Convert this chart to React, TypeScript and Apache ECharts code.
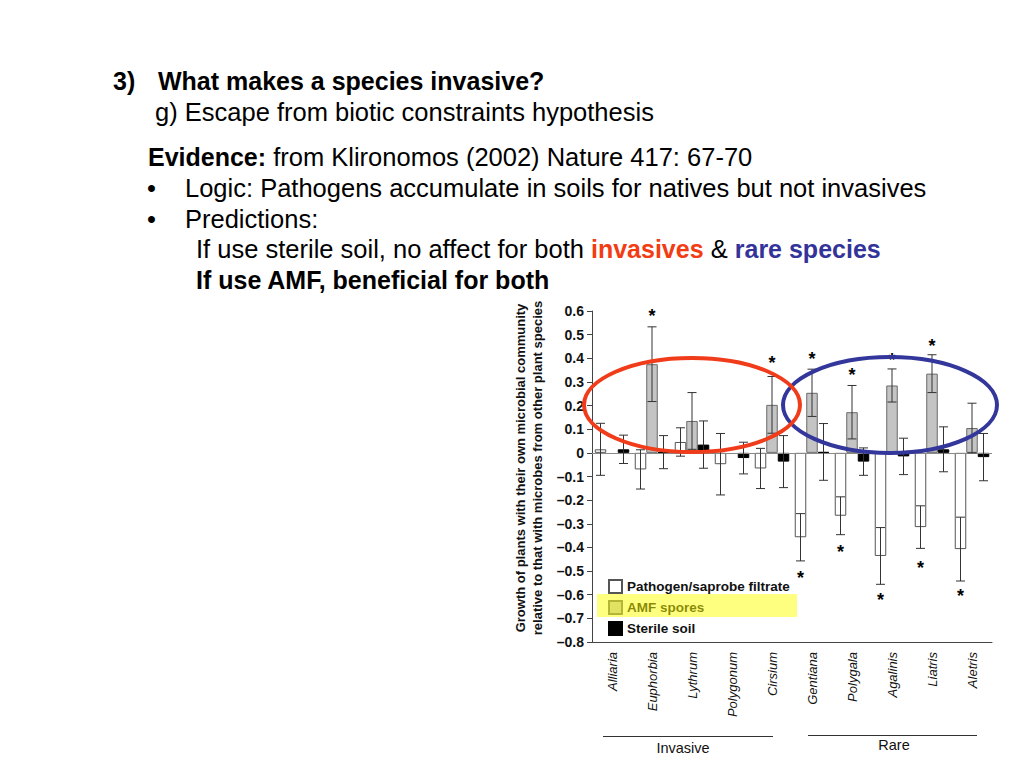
import React, { useEffect, useRef } from 'react';
import * as echarts from 'echarts';

const categories = ['Alliaria', 'Euphorbia', 'Lythrum', 'Polygonum', 'Cirsium', 'Gentiana', 'Polygala', 'Agalinis', 'Liatris', 'Aletris'];
const seriesNames = ['Pathogen/saprobe filtrate', 'AMF spores', 'Sterile soil'];
const pathogenValues = [0.015, -0.07, 0.046, -0.048, -0.066, -0.357, -0.266, -0.436, -0.314, -0.407];
const pathogenErrors = [0.11, 0.083, 0.06, 0.13, 0.085, 0.1, 0.08, 0.12, 0.09, 0.135];
const amfValues = [null, 0.375, 0.135, null, 0.203, 0.254, 0.172, 0.285, 0.335, 0.105];
const amfErrors = [null, 0.158, 0.12, null, 0.12, 0.1, 0.113, 0.07, 0.08, 0.105];
const sterileValues = [0.015, 0.003, 0.035, -0.022, -0.037, 0.004, -0.037, -0.015, 0.015, -0.018];
const sterileErrors = [0.06, 0.07, 0.1, 0.067, 0.11, 0.12, 0.058, 0.077, 0.095, 0.1];
// [category index, bar index (0 pathogen, 1 AMF), y value of asterisk]
const starMarks = [
  [1, 1, 0.6], [4, 1, 0.4], [5, 1, 0.42], [6, 1, 0.35], [7, 1, 0.415], [8, 1, 0.475],
  [5, 0, -0.51], [6, 0, -0.4], [7, 0, -0.6], [8, 0, -0.465], [9, 0, -0.585],
];
const groupLabels = ['Invasive', 'Rare'];
const yAxisTitle = ['Growth of plants with their own microbial community', 'relative to that with microbes from other plant species'];

const FONT = 'Liberation Sans, Arial, Helvetica, sans-serif';
const BAR_W = 11.5;
const offsets = [-BAR_W, 0, BAR_W];
const REG = 25.5;
const BOLD = 25;

function errorRender(offset: number) {
  return (params: any, api: any) => {
    const i = api.value(0);
    const v = api.value(1);
    const e = api.value(2);
    if (v == null || e == null || isNaN(v) || isNaN(e)) return null;
    const c = api.coord([i, v]);
    const hi = api.coord([i, v + e]);
    const lo = api.coord([i, v - e]);
    const x = c[0] + offset;
    const cap = 4.5;
    const st = { stroke: '#333', lineWidth: 1 };
    return {
      type: 'group',
      children: [
        { type: 'line', shape: { x1: x, y1: hi[1], x2: x, y2: lo[1] }, style: st },
        { type: 'line', shape: { x1: x - cap, y1: hi[1], x2: x + cap, y2: hi[1] }, style: st },
        { type: 'line', shape: { x1: x - cap, y1: lo[1], x2: x + cap, y2: lo[1] }, style: st },
      ],
    };
  };
}

function txt(x: number, y: number, text: string, extra: any = {}) {
  return {
    type: 'text',
    x,
    y,
    style: {
      text,
      fill: '#000',
      fontFamily: FONT,
      fontSize: REG,
      textVerticalAlign: 'middle',
      verticalAlign: 'middle',
      ...extra,
    },
  };
}

function buildOption(): any {
  const errSets = [
    [pathogenValues, pathogenErrors],
    [amfValues, amfErrors],
    [sterileValues, sterileErrors],
  ];
  const barStyles = [
    { color: '#ffffff', borderColor: '#555', borderWidth: 1 },
    { color: '#c4c4c4', borderColor: '#6a6a6a', borderWidth: 1 },
    { color: '#000000', borderColor: '#000', borderWidth: 1 },
  ];
  const barData = [pathogenValues, amfValues, sterileValues];

  const bars = barData.map((vals, k) => ({
    name: seriesNames[k],
    type: 'bar',
    barWidth: BAR_W,
    barGap: '0%',
    data: vals.map((v) => (v == null ? '-' : v)),
    itemStyle: barStyles[k],
    silent: true,
    ...(k === 0
      ? {
          markLine: {
            silent: true,
            symbol: 'none',
            label: { show: false },
            lineStyle: { color: '#8a8a8a', width: 1, type: 'solid' },
            data: [{ yAxis: 0 }],
          },
        }
      : {}),
  }));

  const errs = errSets.map(([vals, es], k) => ({
    type: 'custom',
    renderItem: errorRender(offsets[k]),
    data: (vals as any[]).map((v, i) => [i, v == null ? NaN : v, es[i] == null ? NaN : es[i]]),
    z: 5,
    silent: true,
  }));

  const stars = {
    type: 'custom',
    z: 6,
    silent: true,
    data: starMarks,
    renderItem: (params: any, api: any) => {
      const i = api.value(0);
      const b = api.value(1);
      const y = api.value(2);
      const c = api.coord([i, y]);
      return {
        type: 'text',
        x: c[0] + offsets[b],
        y: c[1] + 5,
        style: {
          text: '*',
          fill: '#000',
          fontFamily: FONT,
          fontSize: 18,
          fontWeight: 'bold',
          align: 'center',
          verticalAlign: 'middle',
          textAlign: 'center',
          textVerticalAlign: 'middle',
        },
      };
    },
  };

  const graphic: any[] = [
    txt(113, 81, '3)', { fontWeight: 'bold', fontSize: BOLD }),
    txt(158, 81, 'What makes a species invasive?', { fontWeight: 'bold', fontSize: BOLD }),
    txt(155, 112, 'g) Escape from biotic constraints hypothesis'),
    {
      type: 'text',
      x: 148,
      y: 157,
      style: {
        text: '{b|Evidence:}{n| from Klironomos (2002) Nature 417: 67-70}',
        fontFamily: FONT,
        fontSize: REG,
        verticalAlign: 'middle',
        textVerticalAlign: 'middle',
        rich: {
          b: { fontFamily: FONT, fontSize: BOLD, fontWeight: 'bold', fill: '#000', color: '#000' },
          n: { fontFamily: FONT, fontSize: REG, fill: '#000', color: '#000' },
        },
      },
    },
    txt(147, 188, '•'),
    txt(185, 188, 'Logic: Pathogens accumulate in soils for natives but not invasives'),
    txt(147, 219, '•'),
    txt(185, 219, 'Predictions:'),
    {
      type: 'text',
      x: 196,
      y: 249,
      style: {
        text: '{n|If use sterile soil, no affect for both }{r|invasives}{n| & }{bl|rare species}',
        fontFamily: FONT,
        fontSize: REG,
        verticalAlign: 'middle',
        textVerticalAlign: 'middle',
        rich: {
          n: { fontFamily: FONT, fontSize: REG, fill: '#000', color: '#000' },
          r: { fontFamily: FONT, fontSize: BOLD, fontWeight: 'bold', fill: '#f23c14', color: '#f23c14' },
          bl: { fontFamily: FONT, fontSize: BOLD, fontWeight: 'bold', fill: '#333399', color: '#333399' },
        },
      },
    },
    txt(196, 280, 'If use AMF, beneficial for both', { fontWeight: 'bold', fontSize: BOLD }),
    // y-axis title (two rotated lines)
    {
      type: 'text', x: 520, y: 468, rotation: Math.PI / 2,
      style: { text: yAxisTitle[0], fill: '#111', fontFamily: FONT, fontSize: 13, fontWeight: 'bold', align: 'center', verticalAlign: 'middle', textAlign: 'center', textVerticalAlign: 'middle' },
    },
    {
      type: 'text', x: 537, y: 468, rotation: Math.PI / 2,
      style: { text: yAxisTitle[1], fill: '#111', fontFamily: FONT, fontSize: 13, fontWeight: 'bold', align: 'center', verticalAlign: 'middle', textAlign: 'center', textVerticalAlign: 'middle' },
    },
    // group labels
    { type: 'line', shape: { x1: 603, y1: 736.5, x2: 773, y2: 736.5 }, style: { stroke: '#333', lineWidth: 1 } },
    { type: 'line', shape: { x1: 808, y1: 735.5, x2: 977, y2: 735.5 }, style: { stroke: '#333', lineWidth: 1 } },
    {
      type: 'text', x: 683, y: 748,
      style: { text: groupLabels[0], fill: '#111', fontFamily: FONT, fontSize: 14.5, align: 'center', verticalAlign: 'middle', textAlign: 'center', textVerticalAlign: 'middle' },
    },
    {
      type: 'text', x: 894, y: 745,
      style: { text: groupLabels[1], fill: '#111', fontFamily: FONT, fontSize: 14.5, align: 'center', verticalAlign: 'middle', textAlign: 'center', textVerticalAlign: 'middle' },
    },
    // highlight over legend item
    { type: 'rect', z: 100, shape: { x: 597, y: 594, width: 200, height: 23 }, style: { fill: 'rgba(255,255,0,0.5)' } },
    // ellipses
    { type: 'ellipse', z: 100, shape: { cx: 890, cy: 405, rx: 107, ry: 48 }, style: { fill: 'none', stroke: '#33369a', lineWidth: 4 } },
    { type: 'ellipse', z: 101, shape: { cx: 692, cy: 405, rx: 108, ry: 47 }, style: { fill: 'none', stroke: '#f03c1a', lineWidth: 4 } },
  ];

  return {
    animation: false,
    backgroundColor: '#fff',
    grid: { left: 592, right: 32, top: 311, bottom: 126, containLabel: false },
    legend: {
      data: seriesNames,
      orient: 'vertical',
      left: 603,
      top: 574,
      icon: 'rect',
      itemWidth: 13,
      itemHeight: 13,
      itemGap: 6,
      selectedMode: false,
      textStyle: { fontFamily: FONT, fontSize: 13.5, fontWeight: 'bold', color: '#111' },
    },
    xAxis: {
      type: 'category',
      data: categories,
      axisLine: { onZero: false, lineStyle: { color: '#444', width: 1 } },
      axisTick: { alignWithLabel: true, length: 5, lineStyle: { color: '#444' } },
      axisLabel: { interval: 0, rotate: 90, margin: 10, fontFamily: FONT, fontSize: 13, fontStyle: 'italic', color: '#111' },
      splitLine: { show: false },
    },
    yAxis: {
      type: 'value',
      min: -0.8,
      max: 0.6,
      interval: 0.1,
      axisLine: { show: true, lineStyle: { color: '#444', width: 1 } },
      axisTick: { show: true, length: 5, lineStyle: { color: '#444' } },
      splitLine: { show: false },
      axisLabel: {
        margin: 8,
        fontFamily: FONT,
        fontSize: 14,
        fontWeight: 'bold',
        color: '#111',
        formatter: (v: number) => {
          if (Math.abs(v) < 1e-9) return '0';
          const s = Math.abs(v).toFixed(1);
          return v < 0 ? '\u2013' + s : s;
        },
      },
    },
    series: [...bars, ...errs, stars],
    graphic,
  };
}

export default function App() {
  const ref = useRef<HTMLDivElement>(null);
  useEffect(() => {
    if (!ref.current) return;
    const chart = echarts.init(ref.current, null, { renderer: 'svg' });
    chart.setOption(buildOption());
    return () => chart.dispose();
  }, []);
  return (
    <div
      ref={ref}
      style={{ position: 'absolute', left: 0, top: 0, width: 1024, height: 768, background: '#fff' }}
    />
  );
}
